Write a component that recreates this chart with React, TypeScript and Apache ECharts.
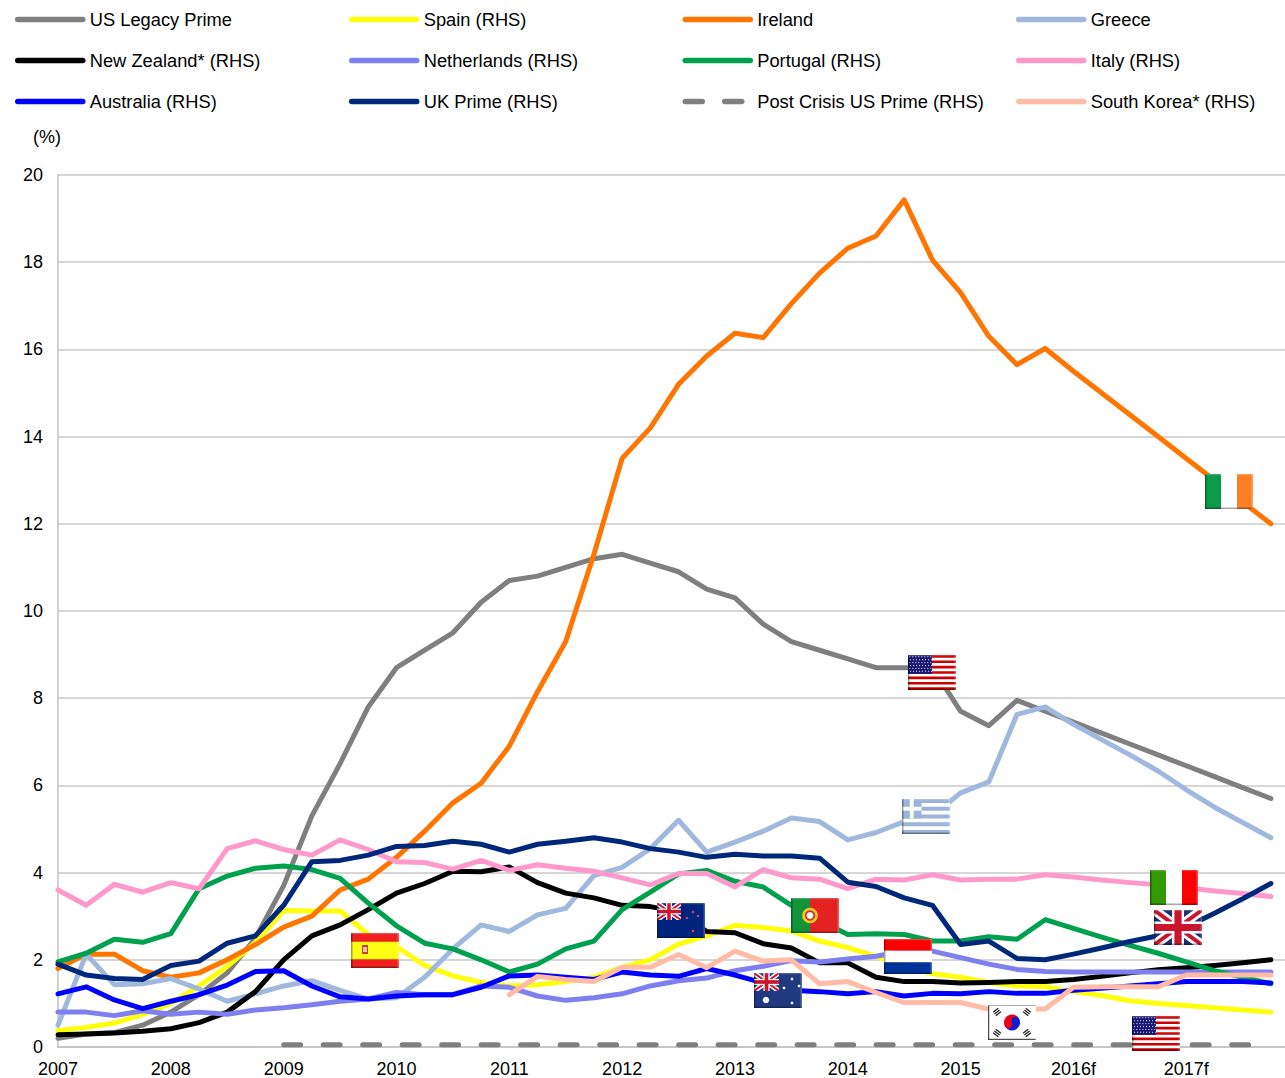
import React, { useEffect, useRef } from "react";
import * as echarts from "echarts";

const tickLabels = ["2007", "2008", "2009", "2010", "2011", "2012", "2013", "2014", "2015", "2016f", "2017f"];

const usLegacyPrime = [0.2, 0.3, 0.33, 0.5, 0.8, 1.2, 1.7, 2.5, 3.7, 5.3, 6.5, 7.8, 8.7, 9.1, 9.5, 10.2, 10.7, 10.8, 11.0, 11.2, 11.3, 11.1, 10.9, 10.5, 10.3, 9.7, 9.3, 9.1, 8.9, 8.7, 8.7, 8.7, 7.7, 7.37, 7.95, 7.7, 7.45, 7.2, 6.95, 6.7, 6.45, 6.2, 5.95, 5.7];
const spain = [0.38, 0.45, 0.55, 0.75, 1.0, 1.4, 1.85, 2.4, 3.13, 3.12, 3.12, 2.58, 2.3, 1.87, 1.63, 1.48, 1.4, 1.43, 1.5, 1.6, 1.83, 2.0, 2.36, 2.55, 2.79, 2.74, 2.66, 2.43, 2.28, 2.08, 1.85, 1.68, 1.6, 1.48, 1.4, 1.38, 1.27, 1.18, 1.06, 1.0, 0.95, 0.9, 0.85, 0.8];
const ireland = [1.8, 2.13, 2.13, 1.75, 1.6, 1.7, 2.0, 2.35, 2.75, 3.0, 3.6, 3.85, 4.35, 4.95, 5.6, 6.05, 6.9, 8.15, 9.3, 11.3, 13.5, 14.2, 15.2, 15.85, 16.37, 16.27, 17.05, 17.75, 18.32, 18.6, 19.43, 18.05, 17.3, 16.3, 15.65, 16.02, 15.5, 15.0, 14.5, 14.0, 13.5, 13.0, 12.5, 12.0];
const greece = [0.5, 2.13, 1.43, 1.45, 1.57, 1.33, 1.05, 1.22, 1.4, 1.52, 1.3, 1.1, 1.13, 1.6, 2.25, 2.8, 2.65, 3.03, 3.18, 3.93, 4.12, 4.55, 5.2, 4.47, 4.7, 4.95, 5.25, 5.17, 4.75, 4.92, 5.17, 5.3, 5.83, 6.08, 7.63, 7.8, 7.4, 7.05, 6.7, 6.33, 5.9, 5.5, 5.15, 4.8];
const newZealand = [0.28, 0.3, 0.32, 0.36, 0.42, 0.56, 0.8, 1.27, 2.0, 2.55, 2.8, 3.15, 3.53, 3.75, 4.03, 4.02, 4.13, 3.77, 3.53, 3.42, 3.25, 3.22, 3.1, 2.65, 2.62, 2.37, 2.27, 1.93, 1.93, 1.6, 1.5, 1.5, 1.47, 1.48, 1.5, 1.5, 1.55, 1.62, 1.7, 1.77, 1.82, 1.87, 1.93, 2.0];
const netherlands = [0.8, 0.8, 0.72, 0.83, 0.75, 0.8, 0.75, 0.85, 0.9, 0.97, 1.05, 1.1, 1.25, 1.2, 1.2, 1.4, 1.37, 1.17, 1.07, 1.13, 1.22, 1.4, 1.52, 1.58, 1.75, 1.85, 1.98, 1.95, 2.02, 2.08, 2.2, 2.2, 2.05, 1.9, 1.78, 1.73, 1.72, 1.72, 1.72, 1.72, 1.72, 1.72, 1.72, 1.72];
const portugal = [1.95, 2.15, 2.47, 2.4, 2.6, 3.63, 3.92, 4.1, 4.15, 4.07, 3.87, 3.3, 2.78, 2.38, 2.25, 2.0, 1.72, 1.9, 2.25, 2.43, 3.15, 3.55, 3.97, 4.05, 3.8, 3.67, 3.25, 2.9, 2.58, 2.6, 2.58, 2.43, 2.43, 2.53, 2.47, 2.92, 2.72, 2.52, 2.33, 2.15, 1.95, 1.75, 1.6, 1.45];
const italy = [3.6, 3.25, 3.73, 3.55, 3.77, 3.63, 4.55, 4.73, 4.53, 4.4, 4.75, 4.53, 4.25, 4.23, 4.08, 4.28, 4.05, 4.18, 4.1, 4.03, 3.88, 3.72, 3.98, 3.98, 3.67, 4.07, 3.88, 3.85, 3.63, 3.85, 3.83, 3.95, 3.83, 3.85, 3.85, 3.95, 3.9, 3.83, 3.77, 3.72, 3.65, 3.58, 3.52, 3.45];
const australia = [1.22, 1.38, 1.08, 0.88, 1.05, 1.2, 1.42, 1.73, 1.75, 1.4, 1.15, 1.1, 1.17, 1.2, 1.2, 1.37, 1.63, 1.65, 1.6, 1.55, 1.72, 1.65, 1.62, 1.8, 1.65, 1.47, 1.3, 1.27, 1.22, 1.27, 1.17, 1.23, 1.22, 1.27, 1.23, 1.23, 1.3, 1.35, 1.4, 1.45, 1.5, 1.5, 1.5, 1.47];
const ukPrime = [1.9, 1.65, 1.57, 1.55, 1.87, 1.97, 2.38, 2.55, 3.25, 4.25, 4.28, 4.4, 4.6, 4.62, 4.72, 4.65, 4.47, 4.65, 4.72, 4.8, 4.7, 4.55, 4.47, 4.35, 4.42, 4.38, 4.38, 4.33, 3.78, 3.68, 3.42, 3.25, 2.35, 2.43, 2.03, 2.0, 2.13, 2.27, 2.42, 2.55, 2.75, 3.07, 3.4, 3.75];
const postCrisisUsPrime = [null, null, null, null, null, null, null, null, 0.05, 0.05, 0.05, 0.05, 0.05, 0.05, 0.05, 0.05, 0.05, 0.05, 0.05, 0.05, 0.05, 0.05, 0.05, 0.05, 0.05, 0.05, 0.05, 0.05, 0.05, 0.05, 0.05, 0.05, 0.05, 0.05, 0.05, 0.05, 0.05, 0.05, 0.05, 0.05, 0.05, 0.05, 0.05, 0.05];
const southKorea = [null, null, null, null, null, null, null, null, null, null, null, null, null, null, null, null, 1.2, 1.62, 1.55, 1.5, 1.83, 1.83, 2.12, 1.82, 2.2, 1.97, 2.0, 1.45, 1.5, 1.25, 1.02, 1.02, 1.02, 0.87, 0.87, 0.87, 1.37, 1.38, 1.38, 1.38, 1.65, 1.65, 1.65, 1.65];

const seriesDefs: [string, (number | null)[], string, boolean][] = [
  ["US Legacy Prime", usLegacyPrime, "#7f7f7f", false],
  ["Spain (RHS)", spain, "#ffff0c", false],
  ["Ireland", ireland, "#ff7500", false],
  ["Greece", greece, "#a0b8dd", false],
  ["New Zealand* (RHS)", newZealand, "#000000", false],
  ["Netherlands (RHS)", netherlands, "#7f7fef", false],
  ["Portugal (RHS)", portugal, "#00a14e", false],
  ["Italy (RHS)", italy, "#ff99cc", false],
  ["Australia (RHS)", australia, "#0000ff", false],
  ["UK Prime (RHS)", ukPrime, "#00287a", false],
  ["Post Crisis US Prime (RHS)", postCrisisUsPrime, "#7f7f7f", true],
  ["South Korea* (RHS)", southKorea, "#ffbba6", false],
];

const FONT = "'Liberation Sans', Arial, sans-serif";
const W = 48;
const H = 35;
const Z = 100;

const rect = (x: number, y: number, w: number, h: number, fill: string, opacity = 1) => ({
  type: "rect", z: Z, silent: true, shape: { x, y, width: w, height: h }, style: { fill, opacity },
});
const poly = (points: number[][], fill: string) => ({
  type: "polygon", z: Z, silent: true, shape: { points }, style: { fill },
});
const circle = (cx: number, cy: number, r: number, fill: string) => ({
  type: "circle", z: Z, silent: true, shape: { cx, cy, r }, style: { fill },
});
const seg = (x1: number, y1: number, x2: number, y2: number, stroke: string, lineWidth: number) => ({
  type: "line", z: Z, silent: true, shape: { x1, y1, x2, y2 }, style: { stroke, lineWidth },
});

const band = (x: number, y: number, w: number, h: number, t: number, flip: boolean) => {
  const tx = (t * w) / h;
  const pts = [
    [0, 0], [tx, 0], [w, h - t], [w, h], [w - tx, h], [0, t],
  ];
  return pts.map(([a, b]) => [x + (flip ? w - a : a), y + b]);
};

const union = (x: number, y: number, w: number, h: number, blue: string) => {
  const s = h / 35;
  return [
    rect(x, y, w, h, blue),
    poly(band(x, y, w, h, 6 * s, false), "#ffffff"),
    poly(band(x, y, w, h, 6 * s, true), "#ffffff"),
    poly(band(x, y, w, h, 2.4 * s, false), "#c8162e"),
    poly(band(x, y, w, h, 2.4 * s, true), "#c8162e"),
    rect(x + w / 2 - 6 * s, y, 12 * s, h, "#ffffff"),
    rect(x, y + h / 2 - 6 * s, w, 12 * s, "#ffffff"),
    rect(x + w / 2 - 3.6 * s, y, 7.2 * s, h, "#c8162e"),
    rect(x, y + h / 2 - 3.6 * s, w, 7.2 * s, "#c8162e"),
  ];
};

const bevel = [
  rect(0, 0, 1.5, H, "#000000", 0.35),
  rect(0, H - 1.5, W, 1.5, "#000000", 0.35),
  rect(0, 0, W, 1.2, "#ffffff", 0.2),
  rect(W - 1.5, 0, 1.5, H, "#ffffff", 0.25),
];

const tricolourV = (a: string, b: string, c: string) => [
  rect(0, 0, W / 3, H, a), rect(W / 3, 0, W / 3, H, b), rect((2 * W) / 3, 0, W / 3, H, c),
];

const usFlag = () => {
  const out: any[] = [rect(0, 0, W, H, "#ffffff")];
  for (let i = 0; i < 7; i++) out.push(rect(0, (i * 2 * H) / 13, W, H / 13, "#cc0000"));
  out.push(rect(0, 0, 24, (7 * H) / 13, "#16166e"));
  for (let r = 0; r < 6; r++) for (let c = 0; c < 8; c++) out.push(circle(1.8 + c * 3 + (r % 2) * 0.8, 1.8 + r * 2.9, 0.6, "#c8c8f0"));
  return out;
};
const greeceFlag = () => {
  const out: any[] = [rect(0, 0, W, H, "#ffffff")];
  for (let i = 0; i < 5; i++) out.push(rect(0, (i * 2 * H) / 9, W, H / 9, "#9db4da"));
  out.push(rect(0, 0, 19.5, (5 * H) / 9, "#9db4da"));
  out.push(rect(7.8, 0, 3.9, (5 * H) / 9, "#ffffff"));
  out.push(rect(0, (2 * H) / 9, 19.5, H / 9, "#ffffff"));
  return out;
};
const koreaFlag = () => {
  const out: any[] = [rect(0, 0, W, H, "#ffffff")];
  const cx = 24, cy = 17.5;
  const corners = [[9, 7, -1], [39, 7, 1], [9, 28, 1], [39, 28, -1]];
  corners.forEach(([x, y, d]) => {
    for (let k = -1; k <= 1; k++) {
      const ox = k * 2.2 * 0.6, oy = k * 2.2 * 0.8 * -d;
      out.push(seg(x + ox - 3.2 * 0.8 * d, y + oy - 3.2 * 0.6, x + ox + 3.2 * 0.8 * d, y + oy + 3.2 * 0.6, "#222222", 1.3));
    }
  });
  out.push({ type: "sector", z: Z, silent: true, shape: { cx, cy, r: 8, startAngle: Math.PI - 0.5, endAngle: 2 * Math.PI - 0.5 }, style: { fill: "#e8001c" } });
  out.push({ type: "sector", z: Z, silent: true, shape: { cx, cy, r: 8, startAngle: -0.5, endAngle: Math.PI - 0.5 }, style: { fill: "#0a1fd0" } });
  out.push(circle(cx - 3.5, cy + 1.9, 4, "#e8001c"));
  out.push(circle(cx + 3.5, cy - 1.9, 4, "#0a1fd0"));
  out.push(rect(0, 0, W, 1, "#999999"), rect(0, H - 1, W, 1, "#777777"), rect(0, 0, 1, H, "#777777"));
  return out;
};
const stars = (pts: number[][], fill: string, r: number) => pts.map(([x, y]) => circle(x, y, r, fill));

const flags: [number, number, any[]][] = [
  [351, 933, [rect(0, 0, W, H, "#ee2020"), rect(0, H / 4, W, H / 2, "#ffff14"), rect(11, 12, 6, 9, "#c8402a"), rect(12, 14, 4, 5, "#f0c8a0")]],
  [657, 903, [rect(0, 0, W, H, "#00247d"), ...union(0, 0, 24, 17, "#00247d"), ...stars([[36, 9], [30, 15], [41, 13], [36, 28]], "#d04060", 1.3)]],
  [754, 973, [rect(0, 0, W, H, "#1f3a80"), ...union(0, 0, 25, 18, "#1f3a80"), ...stars([[38, 6], [30, 15], [45, 13], [38, 30]], "#ffffff", 1.3), ...stars([[12, 27]], "#ffffff", 3.2)]],
  [791, 898, [rect(0, 0, W, H, "#e52222"), rect(0, 0, 19, H, "#12933a"), circle(19, 17.5, 7.8, "#e8d020"), circle(19, 17.5, 5.2, "#d83030"), circle(19, 17.5, 3.4, "#ffffff")]],
  [884, 939, [rect(0, 0, W, H / 3, "#ff0000"), rect(0, H / 3, W, H / 3, "#ffffff"), rect(0, (2 * H) / 3, W, H / 3, "#003399")]],
  [902, 799, greeceFlag()],
  [988, 1005, koreaFlag()],
  [1132, 1016, usFlag()],
  [908, 655, usFlag()],
  [1150, 870, tricolourV("#339900", "#ffffff", "#ff0000")],
  [1154, 910, union(0, 0, W, H, "#1d2f6f")],
  [1205, 474, tricolourV("#0a9a4a", "#ffffff", "#ff7f27")],
];

// legend slot positions: column left edges and row tops
const legendLefts = [15, 349, 682.5, 1016];
const legendTops = [10.5, 51.5, 92.5];

export default function App() {
  const ref = useRef<HTMLDivElement>(null);
  useEffect(() => {
    const chart = echarts.init(ref.current!, undefined, { renderer: "svg" });
    chart.setOption({
      animation: false,
      backgroundColor: "#ffffff",
      textStyle: { fontFamily: FONT },
      legend: seriesDefs.map(([name], i) => ({
        data: [name],
        left: legendLefts[i % 4],
        top: legendTops[Math.floor(i / 4)],
        padding: 0,
        itemWidth: 65,
        itemHeight: 6,
        selectedMode: false,
        itemStyle: { opacity: 0 },
        lineStyle: { width: 5.5, cap: "round", join: "round" },
        textStyle: { fontFamily: FONT, fontSize: 18.3, color: "#000000", padding: [0, 0, 0, 2] },
      })),
      grid: { left: 58, right: 0, top: 175, bottom: 30, containLabel: false },
      xAxis: {
        type: "value",
        min: 0,
        max: 43.5,
        interval: 4,
        splitLine: { show: false },
        axisTick: { show: false },
        axisLine: { show: true, lineStyle: { color: "#c0c0c0", width: 1.5 } },
        axisLabel: {
          fontFamily: FONT,
          fontSize: 18,
          color: "#000000",
          margin: 13,
          showMaxLabel: false,
          formatter: (v: number) => (v % 4 === 0 ? tickLabels[v / 4] ?? "" : ""),
        },
      },
      yAxis: {
        type: "value",
        min: 0,
        max: 20,
        interval: 2,
        axisTick: { show: false },
        axisLine: { show: true, lineStyle: { color: "#c0c0c0", width: 1.5 } },
        splitLine: { show: true, lineStyle: { color: "#c8c8c8", width: 1.5 } },
        axisLabel: { fontFamily: FONT, fontSize: 18, color: "#000000", margin: 15 },
      },
      series: seriesDefs.map(([name, values, color, dashed]) => ({
        name,
        type: "line",
        symbol: "none",
        smooth: false,
        connectNulls: false,
        data: values.map((v, i) => [i, v]).filter((p) => p[1] !== null),
        itemStyle: { color },
        lineStyle: { color, width: 5, cap: "round", join: "round", type: dashed ? [17, 22.5] : "solid" },
      })),
      graphic: {
        z: Z,
        elements: [
          { type: "text", left: 33, top: 128, style: { text: "(%)", fontFamily: FONT, fontSize: 18, fill: "#000000" } },
          ...flags.map(([x, y, children]) => ({
            type: "group",
            x,
            y,
            z: Z,
            silent: true,
            children: [...children, ...bevel],
          })),
        ],
      },
    });
    return () => chart.dispose();
  }, []);
  return <div ref={ref} style={{ position: "absolute", left: 0, top: 0, width: 1285, height: 1078 }} />;
}
